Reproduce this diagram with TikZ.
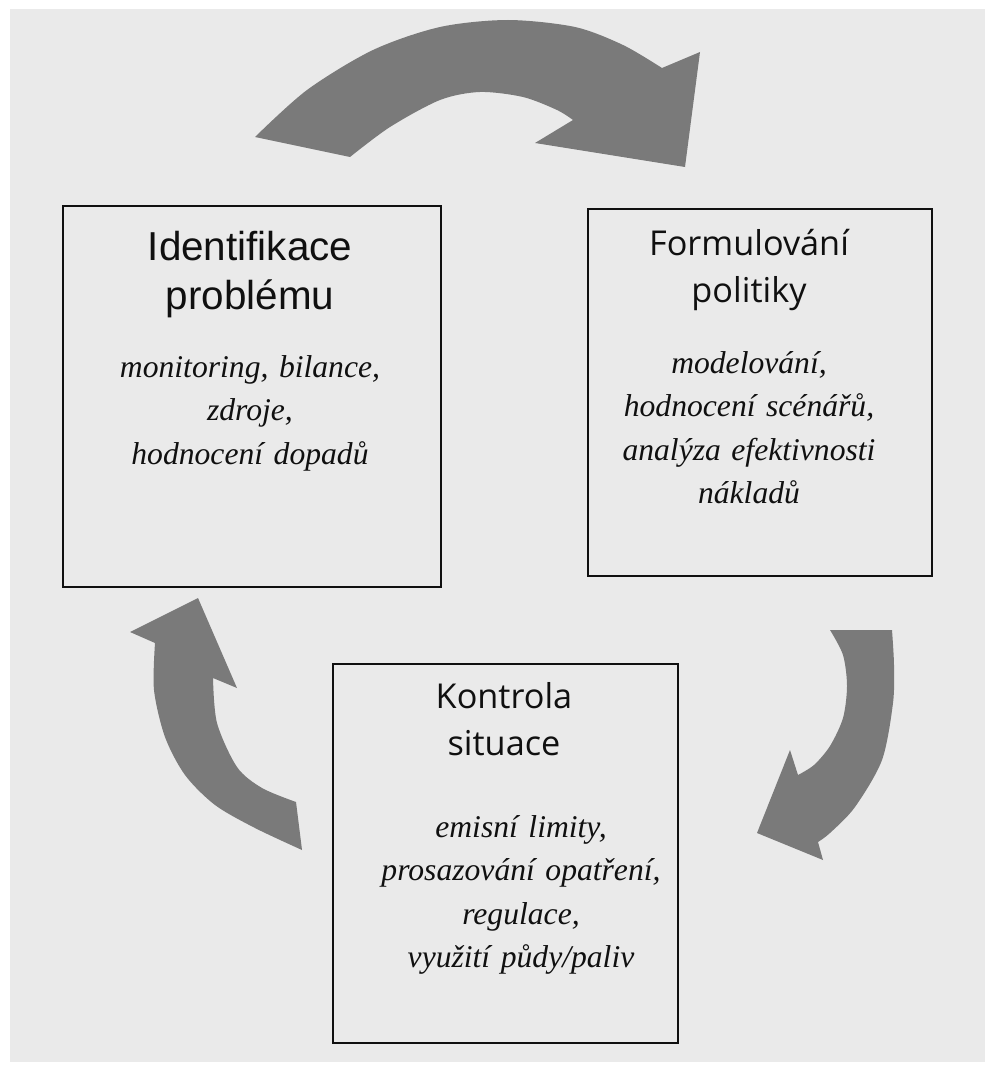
\documentclass[tikz,border=0pt]{standalone}
\usepackage{fontspec}
\setmainfont{Liberation Serif}
\newfontfamily\arialf{Liberation Sans}
\newfontfamily\frutf{Open Sans}
\definecolor{paper}{HTML}{EAEAEA}
\definecolor{arrowgray}{HTML}{7A7A7A}
\definecolor{ink}{HTML}{101010}
\begin{document}
\begin{tikzpicture}[x=0.02cm,y=-0.02cm,
  box/.style={draw=ink, line width=1.6pt, inner sep=0pt},
  ttlA/.style={font=\arialf\fontsize{23}{28.3}\selectfont, text width=9cm, align=center, anchor=base, inner sep=0pt, text=ink},
  ttlB/.style={font=\frutf\fontsize{19.5}{27}\selectfont, text width=9cm, align=center, anchor=base, inner sep=0pt, text=ink},
  body/.style={font=\itshape\fontsize{18}{24.8}\selectfont, text width=9cm, align=center, anchor=base, inner sep=0pt, text=ink},
  bigarrow/.style={fill=arrowgray}]
\fill[white] (0,0) rectangle (990,1068);
\fill[paper] (10,9) rectangle (985,1062);
\useasboundingbox (0,0) rectangle (990,1068);

% boxes
\node[box, minimum width=7.56cm, minimum height=7.62cm] (b1) at (252,396.5) {};
\node[box, minimum width=6.88cm, minimum height=7.34cm] (b2) at (760,392.5) {};
\node[box, minimum width=6.9cm, minimum height=7.58cm] (b3) at (505.5,853.5) {};

% texts
\node[ttlA] (t1) at (250,260) {Identifikace\\problému};
\node[body] (d1) at (250,377) {monitoring, bilance,\\zdroje,\\hodnocení dopadů};
\node[ttlB] (t2) at (749,255) {Formulování\\politiky};
\node[body] (d2) at (749,373) {modelování,\\hodnocení scénářů,\\analýza efektivnosti\\nákladů};
\node[ttlB] (t3) at (504,708) {Kontrola\\situace};
\node[body] (d3) at (521,837) {emisní limity,\\prosazování opatření,\\regulace,\\využití půdy/paliv};

% top arrow
\fill[bigarrow] plot[smooth] coordinates {(255,137)(307,90)(373,50)(440,27)(508,20)(575,27)(623,45)(662,68)}
  -- (700,52) -- (685,167) -- (535,143) -- (573,120)
  -- plot[smooth] coordinates {(573,120)(557,110)(523,97)(480,92)(440,100)(390,127)(350,157)} -- cycle;

% left arrow
\fill[bigarrow] (198,598) -- (237,688) -- (213,678)
  -- plot[smooth] coordinates {(213,678)(217,723)(237,767)(262,788)(296,802)}
  -- (302,850)
  -- plot[smooth] coordinates {(302,850)(255,828)(215,805)(185,775)(165,737)(154,690)(155,643)}
  -- (130,632) -- cycle;

% right arrow
\fill[bigarrow] (830,630) -- (892,630)
  -- plot[smooth] coordinates {(892,630)(894,665)(893,703)(882,760)(855,807)(830,833)(818,842)}
  -- (823,860) -- (757,833) -- (790,750) -- (798,775)
  -- plot[smooth] coordinates {(798,775)(814,765)(830,746)(843,718)(847,686)(843,655)(830,630)} -- cycle;
\end{tikzpicture}
\end{document}
